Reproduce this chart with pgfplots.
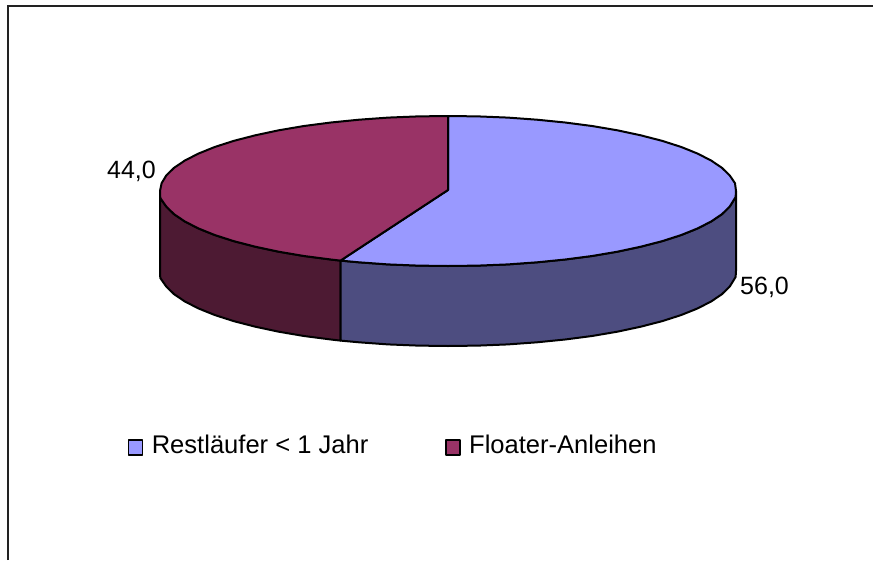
\documentclass[border=0pt]{standalone}
\usepackage{fontspec}
\setmainfont{Liberation Sans}
\usepackage{pgfplots}
\pgfplotsset{compat=1.18}
\definecolor{pieblue}{HTML}{9999FF}
\definecolor{piered}{HTML}{993366}
\definecolor{wallblue}{HTML}{4D4D80}
\definecolor{wallred}{HTML}{4D1A33}
\definecolor{framec}{HTML}{222222}
\begin{document}
\begin{tikzpicture}
\path[use as bounding box] (0,0) rectangle (873pt,560pt);
\begin{axis}[
  at={(0,0)}, anchor=south west,
  scale only axis, width=873pt, height=560pt,
  xmin=0, xmax=873, ymin=0, ymax=560, y dir=reverse,
  hide axis, clip=false,
  legend columns=2,
  legend cell align=left,
  legend image code/.code={\draw[#1,draw=black,line width=1.8pt] (0pt,-10pt) rectangle (14pt,5pt);},
  legend style={at={(axis cs:127.5,445.5)}, anchor=west, draw=none, fill=none, inner sep=0pt, outer sep=0pt,
    font=\fontsize{25.55}{30}\selectfont,
    nodes={inner sep=0pt, outer sep=0pt},
    /tikz/every even column/.append style={column sep=76.5pt},
    /tikz/every odd column/.append style={column sep=8.5pt}},
]
% frame
\addplot[forget plot, framec, line width=2pt] coordinates {(8,560) (8,6) (873,6)};
% side wall, Floater-Anleihen
\addplot[forget plot, draw=black, line width=2pt, fill=wallred, line join=round] coordinates {
 (160,191) (160.3,198) (166.3,206.6) (174.1,214.2) (184.9,221.5) (198.6,228.5) (215,235.1) (234,241.2)
 (255.3,246.7) (278.7,251.7) (304,256) (330.9,259.5) (340.5,260.6)
 (340.5,340.6) (330.9,339.5) (304,336) (278.7,331.7) (255.3,326.7) (234,321.2) (215,315.1)
 (198.6,308.5) (184.9,301.5) (174.1,294.2) (166.3,286.6) (160.3,278) (160,271)} -- cycle;
% side wall, Restlaeufer
\addplot[forget plot, draw=black, line width=2pt, fill=wallblue, line join=round] coordinates {
 (340.5,260.6) (359,262.3) (388.1,264.4) (417.9,265.6) (448,266) (478.1,265.6) (507.9,264.4) (537,262.3)
 (565.1,259.5) (592,256) (617.3,251.7) (640.7,246.7) (662,241.2) (681,235.1) (697.4,228.5) (711.1,221.5)
 (721.9,214.2) (729.7,206.6) (735.6,197) (736,191)
 (736,271) (735.6,277) (729.7,286.6) (721.9,294.2) (711.1,301.5) (697.4,308.5) (681,315.1) (662,321.2)
 (640.7,326.7) (617.3,331.7) (592,336) (565.1,339.5) (537,342.3) (507.9,344.4) (478.1,345.6) (448,346)
 (417.9,345.6) (388.1,344.4) (359,342.3) (340.5,340.6)} -- cycle;
% top face, Restlaeufer < 1 Jahr
\addplot[draw=black, line width=2pt, fill=pieblue, line join=round] coordinates {
 (448,190) (448,116) (478.1,116.4) (507.9,117.6) (537,119.7) (565.1,122.5) (592,126) (617.3,130.3)
 (640.7,135.3) (662,140.8) (681,146.9) (697.4,153.5) (711.1,160.5) (721.9,167.8) (729.7,175.4) (735,183.2)
 (736,191) (735.6,197) (729.7,206.6) (721.9,214.2) (711.1,221.5) (697.4,228.5) (681,235.1) (662,241.2)
 (640.7,246.7) (617.3,251.7) (592,256) (565.1,259.5) (537,262.3) (507.9,264.4) (478.1,265.6) (448,266)
 (417.9,265.6) (388.1,264.4) (359,262.3) (340.5,260.6)} -- cycle;
\addlegendentry{Restläufer < 1 Jahr}
% top face, Floater-Anleihen
\addplot[draw=black, line width=2pt, fill=piered, line join=round] coordinates {
 (448,190) (340.5,260.6) (330.9,259.5) (304,256) (278.7,251.7) (255.3,246.7) (234,241.2) (215,235.1)
 (198.6,228.5) (184.9,221.5) (174.1,214.2) (166.3,206.6) (160.3,198) (160,191) (161.6,183.2) (166.3,175.4)
 (174.1,167.8) (184.9,160.5) (198.6,153.5) (215,146.9) (234,140.8) (255.3,135.3) (278.7,130.3) (304,126)
 (330.9,122.5) (359,119.7) (388.1,117.6) (417.9,116.4) (448,116)} -- cycle;
\addlegendentry{Floater-Anleihen}
\node[anchor=base east, inner sep=0pt, font=\fontsize{25}{30}\selectfont] at (axis cs:156,178) {44,0};
\node[anchor=base west, inner sep=0pt, font=\fontsize{25}{30}\selectfont] at (axis cs:740,294) {56,0};
\end{axis}
\end{tikzpicture}
\end{document}
